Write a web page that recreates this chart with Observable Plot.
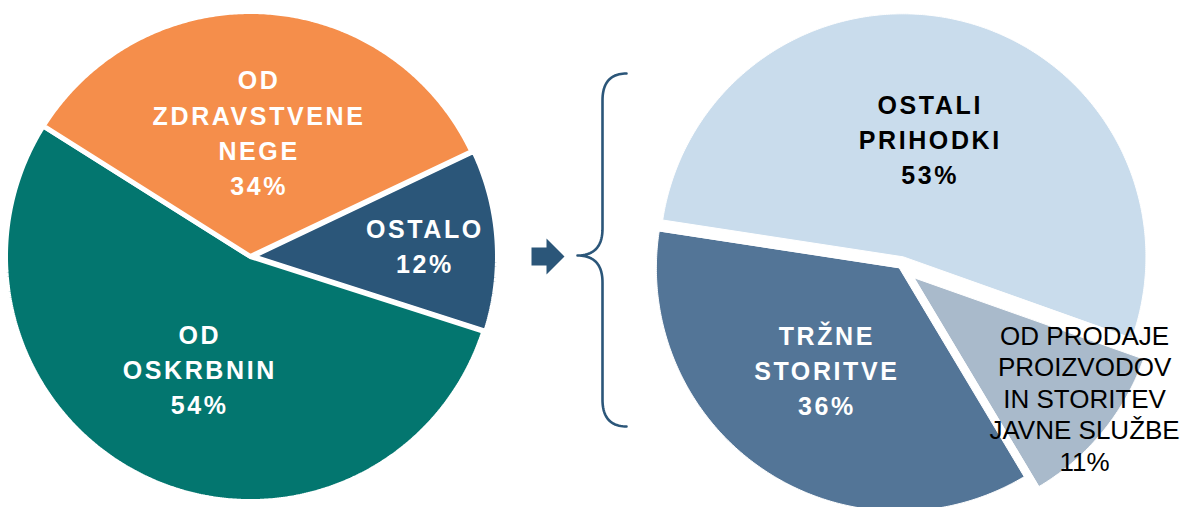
<!DOCTYPE html>
<html><head><meta charset="utf-8">
<script src="https://cdn.jsdelivr.net/npm/d3@7"></script>
<script src="https://cdn.jsdelivr.net/npm/@observablehq/plot@0.6"></script>
<style>html,body{margin:0;padding:0;background:#fff;overflow:hidden}</style>
</head><body><div id="chart"></div>
<script>
// ---- data ----
const leftLabels = ["OSTALO", "OD\nOSKRBNIN", "OD\nZDRAVSTVENE\nNEGE"];
const leftValues = [12, 54, 34];
const leftColors = ["#2B5679", "#03766F", "#F58E4B"];
const leftTextColors = ["#fff", "#fff", "#fff"];
const leftBold = [true, true, true];

const rightLabels = ["OSTALI\nPRIHODKI", "OD PRODAJE\nPROIZVODOV\nIN STORITEV\nJAVNE SLUŽBE", "TRŽNE\nSTORITVE"];
const rightValues = [53, 11, 36];
const rightColors = ["#C9DCEC", "#A9BACB", "#537597"];
const rightTextColors = ["#000", "#000", "#fff"];
const rightBold = [true, false, true];

// ---- layout ----
const W = 1182, H = 507;
const pies = [
  {cx: 250, cy: 256, r: 245, start: 64.6, explode: [2, 0, 0], labelR: [0.699, 0.514, 0.499], labelNudge: [1, -0.6, 0], strokeWidth: 5,
   labels: leftLabels, values: leftValues, colors: leftColors, textColors: leftTextColors, bold: leftBold},
  {cx: 900, cy: 266, r: 243, start: 278.7, explode: [10, 18, 2], labelR: [0.487, 0.859, 0.526], labelNudge: [-1.4, -3.9, 1.4], strokeWidth: 1,
   labels: rightLabels, values: rightValues, colors: rightColors, textColors: rightTextColors, bold: rightBold}
];
const rad = Math.PI / 180;

const slicePts = [[], []];
const labelRows = [];
pies.forEach((p, pi) => {
  const arcs = d3.pie().sort(null)
    .startAngle(p.start * rad).endAngle(p.start * rad + 2 * Math.PI)(p.values);
  arcs.forEach((a, i) => {
    const mid = (a.startAngle + a.endAngle) / 2;
    const ox = p.cx + p.explode[i] * Math.sin(mid);
    const oy = p.cy - p.explode[i] * Math.cos(mid);
    const key = pi + "-" + i;
    slicePts[pi].push({key, color: p.colors[i], x: ox, y: oy});
    const n = Math.max(2, Math.ceil((a.endAngle - a.startAngle) / (0.5 * rad)));
    for (let k = 0; k <= n; k++) {
      const t = a.startAngle + (a.endAngle - a.startAngle) * k / n;
      slicePts[pi].push({key, color: p.colors[i], x: ox + p.r * Math.sin(t), y: oy - p.r * Math.cos(t)});
    }
    const la = mid + p.labelNudge[i] * rad;
    labelRows.push({
      x: ox + p.labelR[i] * p.r * Math.sin(la),
      y: oy - p.labelR[i] * p.r * Math.cos(la),
      text: p.labels[i] + "\n" + p.values[i] + "%",
      color: p.textColors[i],
      bold: p.bold[i]
    });
  });
});

// arrow
const arrow = {tipX: 564, cy: 256, headLen: 18, headHalf: 18, bodyLen: 15, bodyHalf: 9};
const arrowPts = [
  [arrow.tipX - arrow.headLen - arrow.bodyLen, arrow.cy - arrow.bodyHalf],
  [arrow.tipX - arrow.headLen, arrow.cy - arrow.bodyHalf],
  [arrow.tipX - arrow.headLen, arrow.cy - arrow.headHalf],
  [arrow.tipX, arrow.cy],
  [arrow.tipX - arrow.headLen, arrow.cy + arrow.headHalf],
  [arrow.tipX - arrow.headLen, arrow.cy + arrow.bodyHalf],
  [arrow.tipX - arrow.headLen - arrow.bodyLen, arrow.cy + arrow.bodyHalf]
].map(([x, y]) => ({x, y}));

// brace
const brace = {tipX: 577, midY: 255, stemX: 602, endX: 626, top: 73, bottom: 426, curve: 27};
const bracePts = [];
function quad(p0, c, p1) {
  for (let k = 0; k <= 24; k++) {
    const t = k / 24, u = 1 - t;
    bracePts.push({x: u*u*p0[0] + 2*u*t*c[0] + t*t*p1[0], y: u*u*p0[1] + 2*u*t*c[1] + t*t*p1[1]});
  }
}
const b = brace;
quad([b.endX, b.top], [b.stemX, b.top], [b.stemX, b.top + b.curve]);
quad([b.stemX, b.midY - b.curve], [b.stemX, b.midY], [b.tipX, b.midY]);
quad([b.tipX, b.midY], [b.stemX, b.midY], [b.stemX, b.midY + b.curve]);
quad([b.stemX, b.bottom - b.curve], [b.stemX, b.bottom], [b.endX, b.bottom]);

const font = "'Liberation Sans', Arial, Helvetica, sans-serif";
const ls = 2.6;

const chart = Plot.plot({
  width: W, height: H, margin: 0,
  x: {domain: [0, W], range: [0, W], axis: null},
  y: {domain: [0, H], range: [0, H], axis: null},
  color: {type: "identity"},
  style: {background: "white"},
  marks: [
    Plot.line(slicePts[0], {x: "x", y: "y", z: "key", fill: "color", stroke: "white", strokeWidth: pies[0].strokeWidth, curve: "linear-closed", strokeLinejoin: "miter"}),
    Plot.line(slicePts[1], {x: "x", y: "y", z: "key", fill: "color", stroke: "white", strokeWidth: pies[1].strokeWidth, curve: "linear-closed", strokeLinejoin: "miter"}),
    Plot.line(arrowPts, {x: "x", y: "y", fill: "#2B5679", stroke: "none", curve: "linear-closed"}),
    Plot.line(bracePts, {x: "x", y: "y", stroke: "#2B5679", strokeWidth: 2.6, fill: "none", curve: "linear"}),
    Plot.text(labelRows.filter(d => d.bold), {x: "x", y: "y", text: "text", fill: "color", fontSize: 25, fontWeight: "bold", fontFamily: font, lineHeight: 1.41, dx: ls / 2, dy: -3.5}),
    Plot.text(labelRows.filter(d => !d.bold), {x: "x", y: "y", text: "text", fill: "color", fontSize: 26, fontWeight: "normal", fontFamily: font, lineHeight: 1.21, dy: -1})
  ]
});
chart.querySelectorAll('g[font-weight="bold"]').forEach(g => g.setAttribute("letter-spacing", ls + "px"));
document.getElementById("chart").appendChild(chart);
</script>
</body></html>
